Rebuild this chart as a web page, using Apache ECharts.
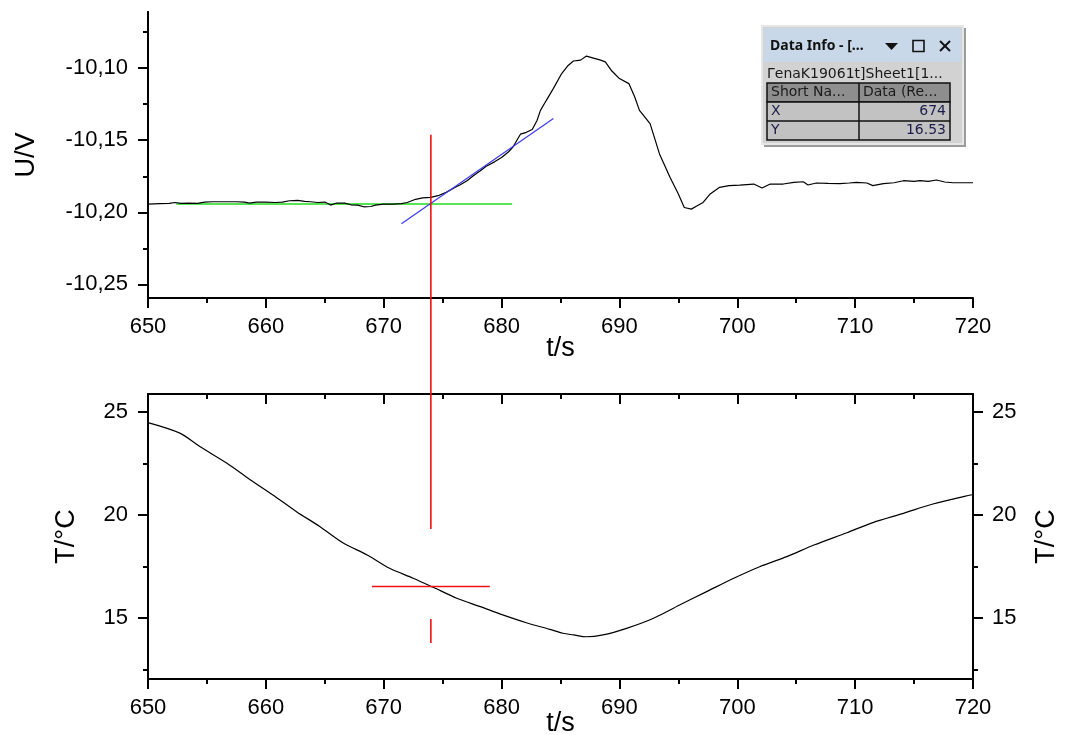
<!DOCTYPE html>
<html>
<head>
<meta charset="utf-8">
<title>U/V und T/°C</title>
<style>
  html, body { margin: 0; padding: 0; background: #fff; }
  #chart { width: 1066px; height: 735px; }
</style>
</head>
<body>
<div id="chart"></div>
<script src="https://cdn.jsdelivr.net/npm/echarts@6.0.0/dist/echarts.min.js"></script>
<script>
// --- data ---
var tU = [650.0, 651.0, 651.8, 652.3, 652.8, 653.5, 654.2, 654.8, 655.5, 656.5, 657.5, 658.2, 658.6, 659.2, 660.0,
          660.8, 661.4, 662.0, 662.7, 663.3, 663.8, 664.4, 665.0, 665.5, 666.0, 666.7, 667.2, 667.8, 668.3, 668.9,
          669.3, 670.0, 670.8, 671.5, 672.0, 672.7, 673.3, 674.0, 674.6, 675.3, 676.0, 676.5, 677.1, 677.6, 678.2,
          678.7, 679.4, 680.0, 680.6, 681.0, 681.3, 681.6, 682.1, 682.6, 683.0, 683.3, 683.8, 684.4, 685.1, 685.6,
          686.1, 686.7, 687.2, 687.8, 688.4, 688.8, 689.3, 690.0, 690.8, 691.3, 691.7, 692.6, 693.4, 694.3, 695.0,
          695.5, 696.1, 696.6, 697.1, 697.7, 698.5, 699.3, 700.2, 701.4, 702.1, 702.8, 703.9, 704.8, 705.6, 706.0,
          706.7, 707.7, 708.7, 709.5, 710.1, 711.0, 711.5, 712.4, 713.3, 714.1, 715.0, 715.5, 716.2, 716.9, 717.6,
          718.3, 719.2, 720.0];
var uVals = [-10.1943, -10.1940, -10.1938, -10.1932, -10.1938, -10.1936, -10.1938, -10.1929, -10.1927, -10.1927,
             -10.1927, -10.1930, -10.1936, -10.1929, -10.1929, -10.1932, -10.1929, -10.1920, -10.1917, -10.1924,
             -10.1927, -10.1932, -10.1929, -10.1950, -10.1936, -10.1936, -10.1948, -10.1950, -10.1962, -10.1960,
             -10.1950, -10.1943, -10.1943, -10.1940, -10.1932, -10.1910, -10.1900, -10.1897, -10.1885, -10.1862,
             -10.1830, -10.1809, -10.1780, -10.1746, -10.1712, -10.1680, -10.1650, -10.1620, -10.1580, -10.1544,
             -10.1500, -10.1458, -10.1445, -10.1425, -10.1365, -10.1293, -10.1223, -10.1140, -10.1037, -10.0985,
             -10.0950, -10.0944, -10.0916, -10.0930, -10.0944, -10.0956, -10.1014, -10.1072, -10.1107, -10.1200,
             -10.1293, -10.1385, -10.1595, -10.1758, -10.1873, -10.1967, -10.1978, -10.1955, -10.1932, -10.1873,
             -10.1827, -10.1815, -10.1811, -10.1804, -10.1832, -10.1804, -10.1804, -10.1792, -10.1788, -10.1811,
             -10.1797, -10.1800, -10.1801, -10.1797, -10.1792, -10.1797, -10.1815, -10.1801, -10.1795, -10.1781,
             -10.1785, -10.1781, -10.1785, -10.1776, -10.1790, -10.1795, -10.1795, -10.1795];

var tT = [650.0, 652.7, 654.4, 656.7, 658.7, 660.6, 662.6, 664.6, 666.6, 668.6, 670.5, 672.5, 674.2, 676.2, 678.2,
          680.1, 682.1, 684.1, 685.2, 686.1, 687.2, 688.6, 690.6, 692.9, 695.1, 697.4, 699.7, 701.9, 704.2, 706.5,
          709.3, 711.5, 714.1, 716.6, 719.8, 720.0];
var tempVals = [24.48, 23.97, 23.32, 22.51, 21.70, 20.97, 20.16, 19.43, 18.63, 18.06, 17.41, 16.93, 16.49, 15.96, 15.55,
                15.15, 14.77, 14.45, 14.26, 14.18, 14.09, 14.18, 14.50, 14.99, 15.63, 16.28, 16.93, 17.49, 17.98, 18.54,
                19.14, 19.63, 20.08, 20.53, 20.97, 20.98];

// fitted lines in the U plot
var baseLine = [[652.4, -10.1942], [680.9, -10.1942]];
var slopeLine = [[671.5, -10.2079], [684.4, -10.1349]];

// data reader cursor
var cursorX = 674;
var cursorY = 16.53;
var cursorUpper = [[674, 38.45], [674, 19.32]];
var cursorLower = [[674, 14.95], [674, 13.79]];
var cursorHoriz = [[669, 16.53], [679, 16.53]];

// ticks
var uMajor = [-10.25, -10.20, -10.15, -10.10];
var uMinor = [-10.225, -10.175, -10.125, -10.075];
var tMajor = [15, 20, 25];
var tMinor = [12.5, 17.5, 22.5];

function zip(a, b) {
  var out = [];
  for (var i = 0; i < a.length; i++) out.push([a[i], b[i]]);
  return out;
}

var FONT = 'Liberation Sans, Arial, sans-serif';
var lineStyle = { color: '#000', width: 2 };

function xAxisCfg(grid, pos, showLabel, inside, nameGap) {
  return {
    type: 'value', gridIndex: grid, position: pos,
    min: 650, max: 720, interval: 10,
    name: showLabel ? 't/s' : '', nameLocation: 'middle', nameGap: nameGap, nameMoveOverlap: false,
    nameTextStyle: { fontSize: 27, fontFamily: FONT, color: '#000' },
    axisLine: { show: true, onZero: false, lineStyle: lineStyle },
    axisTick: { show: true, inside: inside, length: 10, lineStyle: { width: 2, color: '#000' } },
    minorTick: { show: true, splitNumber: 2, length: 5, lineStyle: { width: 2, color: '#000' } },
    axisLabel: { show: showLabel, fontSize: 22, fontFamily: FONT, color: '#000', margin: 18 },
    splitLine: { show: false }
  };
}

function yAxisCfg(grid, pos, min, max, ticks, isMajor, name, nameGap, fmt, margin) {
  return {
    type: 'value', gridIndex: grid, position: pos, min: min, max: max,
    name: isMajor ? name : '', nameLocation: 'middle', nameGap: nameGap, nameRotate: 90,
    nameTextStyle: { fontSize: 27, fontFamily: FONT, color: '#000' },
    axisLine: { show: true, onZero: false, lineStyle: lineStyle },
    axisTick: { show: true, customValues: ticks, length: isMajor ? 10 : 5, lineStyle: { width: 2, color: '#000' } },
    axisLabel: { show: isMajor, customValues: ticks, fontSize: 22, fontFamily: FONT, color: '#000',
                 margin: margin, formatter: fmt },
    splitLine: { show: false }
  };
}

var fmtU = function (v) { return v.toFixed(2).replace('.', ','); };
var fmtT = function (v) { return String(Math.round(v)); };

var uMin = -10.2595, uMax = -10.061;
var tMin = 12.04, tMax = 25.87;

var chart = echarts.init(document.getElementById('chart'), null, { renderer: 'canvas' });

var infoFont = '14px "DejaVu Sans", sans-serif';

var option = {
  animation: false,
  backgroundColor: '#fff',
  grid: [
    { left: 148, top: 12, width: 825, height: 286, outerBoundsMode: 'none' },
    { left: 148, top: 394, width: 825, height: 285, outerBoundsMode: 'none' }
  ],
  xAxis: [
    xAxisCfg(0, 'bottom', true, false, 37),
    xAxisCfg(1, 'bottom', true, false, 31),
    xAxisCfg(1, 'top', false, true, 0)
  ],
  yAxis: [
    yAxisCfg(0, 'left', uMin, uMax, uMajor, true, 'U/V', 108, fmtU, 20),
    yAxisCfg(0, 'left', uMin, uMax, uMinor, false, '', 0, fmtU, 20),
    yAxisCfg(1, 'left', tMin, tMax, tMajor, true, 'T/°C', 68, fmtT, 20),
    yAxisCfg(1, 'left', tMin, tMax, tMinor, false, '', 0, fmtT, 20),
    yAxisCfg(1, 'right', tMin, tMax, tMajor, true, 'T/°C', 60, fmtT, 19),
    yAxisCfg(1, 'right', tMin, tMax, tMinor, false, '', 0, fmtT, 19)
  ],
  series: [
    {
      name: 'U', type: 'line', xAxisIndex: 0, yAxisIndex: 0,
      data: zip(tU, uVals), symbol: 'none',
      lineStyle: { color: '#000', width: 1.2 }, z: 3
    },
    {
      name: 'base', type: 'line', xAxisIndex: 0, yAxisIndex: 0,
      data: baseLine, symbol: 'none',
      lineStyle: { color: '#1fdc1f', width: 1.5 }, z: 2
    },
    {
      name: 'slope', type: 'line', xAxisIndex: 0, yAxisIndex: 0,
      data: slopeLine, symbol: 'none',
      lineStyle: { color: '#3a3af0', width: 1.2 }, z: 4
    },
    {
      name: 'T', type: 'line', xAxisIndex: 1, yAxisIndex: 2,
      data: zip(tT, tempVals), symbol: 'none', smooth: 0.3,
      lineStyle: { color: '#000', width: 1.2 }, z: 3
    },
    {
      name: 'cursor1', type: 'line', xAxisIndex: 1, yAxisIndex: 2,
      data: cursorUpper, symbol: 'none', clip: false,
      lineStyle: { color: '#f01010', width: 1.6 }, z: 5
    },
    {
      name: 'cursor2', type: 'line', xAxisIndex: 1, yAxisIndex: 2,
      data: cursorLower, symbol: 'none', clip: false,
      lineStyle: { color: '#f01010', width: 1.6 }, z: 5
    },
    {
      name: 'cursor3', type: 'line', xAxisIndex: 1, yAxisIndex: 2,
      data: cursorHoriz, symbol: 'none', clip: false,
      lineStyle: { color: '#f01010', width: 1.6 }, z: 5
    }
  ],
  // Data Info window
  graphic: [
    { type: 'rect', shape: { x: 764, y: 28, width: 202, height: 119 }, style: { fill: '#9c9c9c' }, z: 10 },
    { type: 'rect', shape: { x: 762, y: 26, width: 201, height: 118 }, style: { fill: '#d2d2d2', stroke: '#e6e6e6', lineWidth: 2 }, z: 11 },
    { type: 'rect', shape: { x: 764, y: 28, width: 197, height: 34 }, style: { fill: '#c8d8e8' }, z: 12 },
    { type: 'text', x: 770, y: 46, style: { text: 'Data Info - [...', font: 'bold 14px "Noto Sans", sans-serif', fill: '#111', verticalAlign: 'middle' }, z: 13 },
    { type: 'polygon', shape: { points: [[885, 43], [898, 43], [891.5, 50]] }, style: { fill: '#111' }, z: 13 },
    { type: 'rect', shape: { x: 913, y: 40.5, width: 11, height: 11 }, style: { fill: 'none', stroke: '#111', lineWidth: 1.6 }, z: 13 },
    { type: 'line', shape: { x1: 940, y1: 41, x2: 950, y2: 51 }, style: { stroke: '#111', lineWidth: 2 }, z: 13 },
    { type: 'line', shape: { x1: 950, y1: 41, x2: 940, y2: 51 }, style: { stroke: '#111', lineWidth: 2 }, z: 13 },
    { type: 'text', x: 767, y: 74, style: { text: 'ΓenaK19061t]Sheet1[1...', font: infoFont, fill: '#1a1a1a', verticalAlign: 'middle' }, z: 13 },
    { type: 'rect', shape: { x: 767, y: 83, width: 183, height: 19 }, style: { fill: '#8e8e8e', stroke: '#111', lineWidth: 1.5 }, z: 12 },
    { type: 'rect', shape: { x: 767, y: 102, width: 183, height: 38 }, style: { fill: '#c2c2c2', stroke: '#111', lineWidth: 1.5 }, z: 12 },
    { type: 'line', shape: { x1: 767, y1: 121, x2: 950, y2: 121 }, style: { stroke: '#111', lineWidth: 1.5 }, z: 13 },
    { type: 'line', shape: { x1: 859, y1: 83, x2: 859, y2: 140 }, style: { stroke: '#111', lineWidth: 1.5 }, z: 13 },
    { type: 'text', x: 771, y: 92.5, style: { text: 'Short Na...', font: infoFont, fill: '#1a1a1a', verticalAlign: 'middle' }, z: 14 },
    { type: 'text', x: 863, y: 92.5, style: { text: 'Data (Re...', font: infoFont, fill: '#1a1a1a', verticalAlign: 'middle' }, z: 14 },
    { type: 'text', x: 771, y: 111.5, style: { text: 'X', font: infoFont, fill: '#1c1c4a', verticalAlign: 'middle' }, z: 14 },
    { type: 'text', x: 946, y: 111.5, style: { text: String(cursorX), font: infoFont, fill: '#1c1c4a', align: 'right', verticalAlign: 'middle' }, z: 14 },
    { type: 'text', x: 771, y: 130.5, style: { text: 'Y', font: infoFont, fill: '#1c1c4a', verticalAlign: 'middle' }, z: 14 },
    { type: 'text', x: 946, y: 130.5, style: { text: cursorY.toFixed(2), font: infoFont, fill: '#1c1c4a', align: 'right', verticalAlign: 'middle' }, z: 14 }
  ]
};

chart.setOption(option);
</script>
</body>
</html>
